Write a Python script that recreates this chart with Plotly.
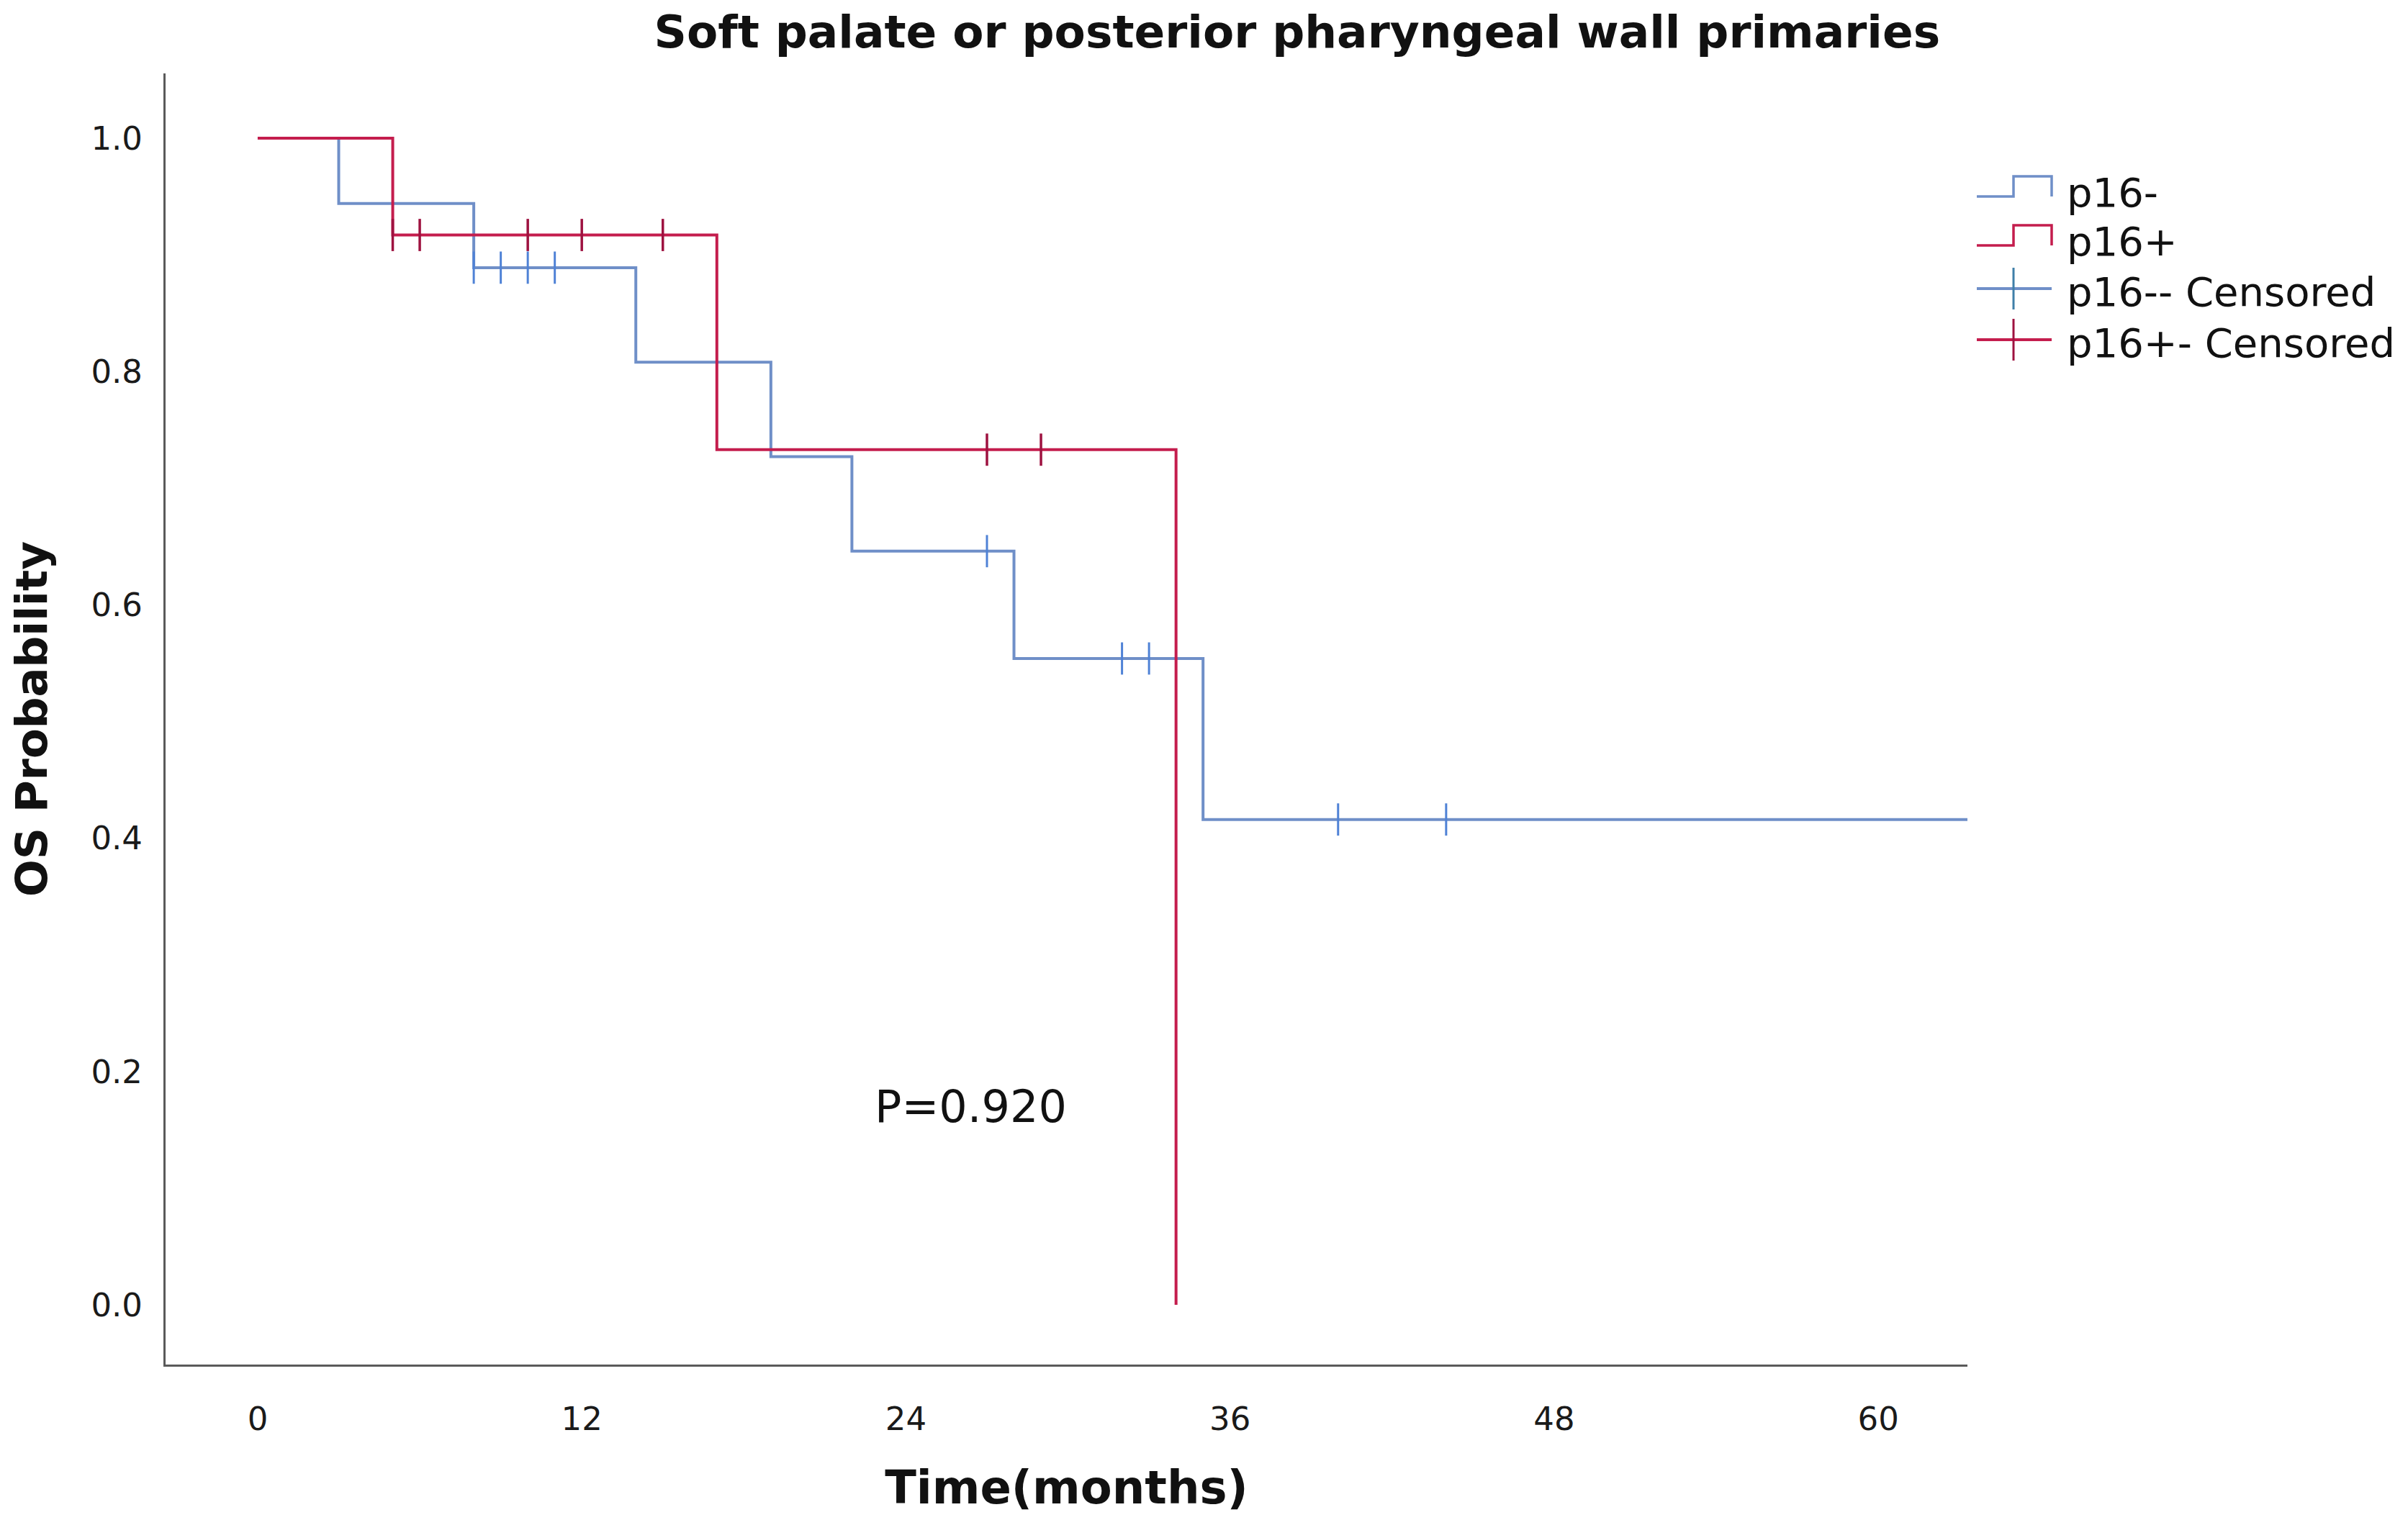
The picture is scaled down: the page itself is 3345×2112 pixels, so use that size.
import plotly.graph_objects as go

# Kaplan-Meier steps (months, OS probability)
neg_time = [0, 3, 8, 14, 19, 22, 28, 35, 63.3]
neg_surv = [1.0, 0.944, 0.889, 0.808, 0.727, 0.646, 0.554, 0.416, 0.416]
neg_cens_time = [8, 9, 10, 11, 27, 32, 33, 40, 44]
neg_cens_surv = [0.889, 0.889, 0.889, 0.889, 0.646, 0.554, 0.554, 0.416, 0.416]

pos_time = [0, 5, 17, 34]
pos_surv = [1.0, 0.917, 0.733, 0.0]
pos_cens_time = [5, 6, 10, 12, 15, 27, 29]
pos_cens_surv = [0.917, 0.917, 0.917, 0.917, 0.917, 0.733, 0.733]

legend_labels = ["p16-", "p16+", "p16-- Censored", "p16+- Censored"]
x_ticks = [0, 12, 24, 36, 48, 60]
y_ticks = [0.0, 0.2, 0.4, 0.6, 0.8, 1.0]
p_text = "P=0.920"

BLUE = "#6f8fc8"
BLUE_TICK = "#4f82d6"
RED = "#c41d4d"
RED_TICK = "#9e1240"
FONT = "DejaVu Sans"

# page body has an 8px margin, so the figure is drawn 8px smaller and
# everything is placed relative to that offset
OFF = 8
W, H = 3345 - OFF, 2112 - OFF
L, R, T, B = 230 - OFF, 612, 102 - OFF, 216
pw, ph = W - L - R, H - T - B


def px(x):
    return (x - OFF - L) / pw


def py(y):
    return (H - B - (y - OFF)) / ph


fig = go.Figure()
fig.add_trace(go.Scatter(x=neg_time, y=neg_surv, mode="lines", line_shape="hv",
                         line=dict(color=BLUE, width=4), name=legend_labels[0]))
fig.add_trace(go.Scatter(x=pos_time, y=pos_surv, mode="lines", line_shape="hv",
                         line=dict(color=RED, width=4), name=legend_labels[1]))
fig.add_trace(go.Scatter(x=neg_cens_time, y=neg_cens_surv, mode="markers",
                         marker=dict(symbol="line-ns", size=32,
                                     line=dict(color=BLUE_TICK, width=3)),
                         name=legend_labels[2]))
fig.add_trace(go.Scatter(x=pos_cens_time, y=pos_cens_surv, mode="markers",
                         marker=dict(symbol="line-ns", size=32,
                                     line=dict(color=RED_TICK, width=3.5)),
                         name=legend_labels[3]))

fig.add_annotation(x=22.8, y=0.17, xref="x", yref="y", text=p_text, showarrow=False,
                   xanchor="left", yanchor="middle",
                   font=dict(family=FONT, size=62, color="#111111"))

# hand-drawn legend so the step glyphs look like the original
rows = [267, 335, 405, 476]
colors = [BLUE, RED, BLUE, RED]
x0, xm, x1 = 2746, 2797, 2850
shapes = []
for i, (c, col) in enumerate(zip(rows, colors)):
    if i < 2:
        lo, hi = c + 6, c - 22
        path = (f"M {px(x0)},{py(lo)} L {px(xm)},{py(lo)} L {px(xm)},{py(hi)} "
                f"L {px(x1)},{py(hi)} L {px(x1)},{py(lo)}")
        shapes.append(dict(type="path", path=path, xref="paper", yref="paper",
                           line=dict(color=col, width=3.5)))
    else:
        shapes.append(dict(type="line", xref="paper", yref="paper",
                           x0=px(x0), x1=px(x1), y0=py(c - 4), y1=py(c - 4),
                           line=dict(color=col, width=4)))
        shapes.append(dict(type="line", xref="paper", yref="paper",
                           x0=px(xm), x1=px(xm), y0=py(c - 33), y1=py(c + 25),
                           line=dict(color=RED_TICK if i == 3 else "#3f7fa8", width=3)))
    fig.add_annotation(x=px(2869), y=py(c), xref="paper", yref="paper",
                       text=legend_labels[i], showarrow=False,
                       xanchor="left", yanchor="middle",
                       font=dict(family=FONT, size=56, color="#111111"))

fig.update_layout(
    width=W, height=H,
    margin=dict(l=L, r=R, t=T, b=B, autoexpand=False),
    paper_bgcolor="white", plot_bgcolor="white",
    showlegend=False,
    shapes=shapes,
    font=dict(family=FONT, color="#111111"),
    title=dict(text="<b>Soft palate or posterior pharyngeal wall primaries</b>",
               xref="paper", x=0.628, xanchor="center",
               yref="container", y=1 - (44 - OFF) / H, yanchor="middle",
               font=dict(family=FONT, size=63, color="#111111")),
)
fig.update_xaxes(range=[-3.41, 63.3], tickvals=x_ticks, showgrid=False, zeroline=False,
                 showline=True, linecolor="#5a5a5a", linewidth=3, ticks="",
                 ticklabelstandoff=34, tickfont=dict(family=FONT, size=45, color="#1a1a1a"),
                 title=dict(text="<b>Time(months)</b>", standoff=48,
                            font=dict(family=FONT, size=64, color="#111111")))
fig.update_yaxes(range=[-0.0512, 1.0555], tickvals=y_ticks, tickformat=".1f",
                 showgrid=False, zeroline=False,
                 showline=True, linecolor="#5a5a5a", linewidth=3, ticks="",
                 ticklabelstandoff=20, tickfont=dict(family=FONT, size=45, color="#1a1a1a"),
                 title=dict(text="<b>OS Probability</b>", standoff=64,
                            font=dict(family=FONT, size=61, color="#111111")))

fig.write_html("out.html")
